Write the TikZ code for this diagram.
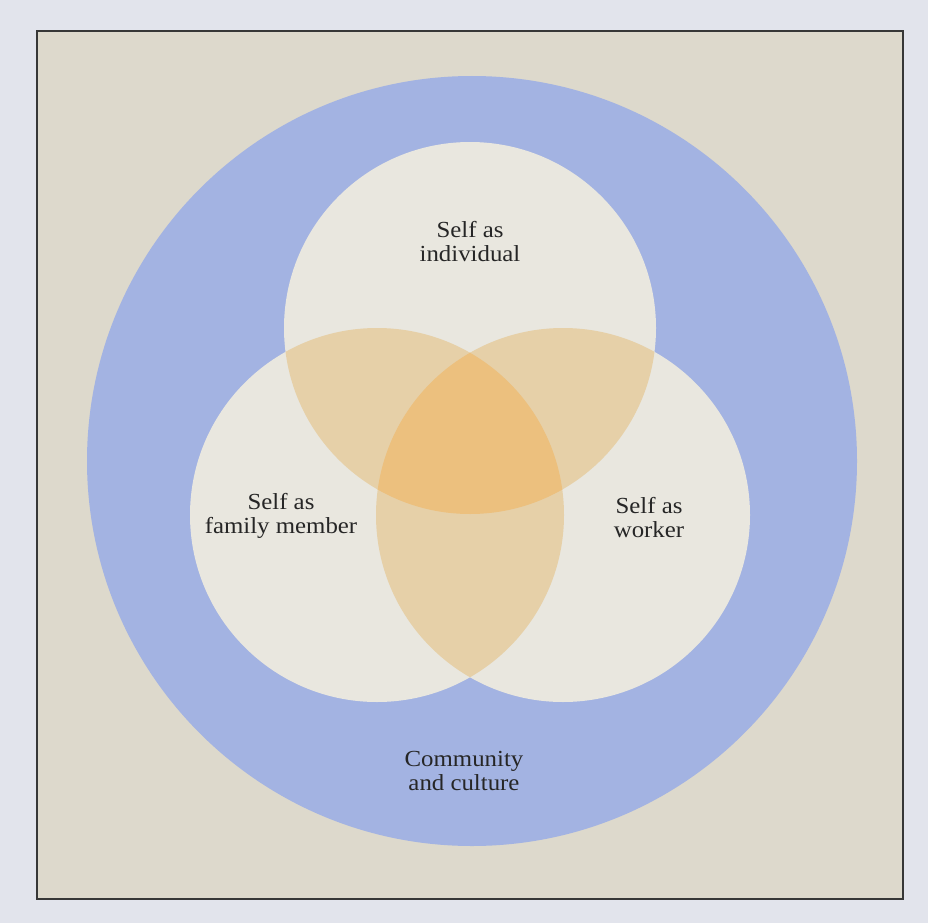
\documentclass[tikz,border=0pt]{standalone}
\usepackage{fontspec}
\setmainfont{Liberation Serif}[FakeStretch=1.08]
\definecolor{pagebg}{RGB}{226,228,236}
\definecolor{paper}{RGB}{221,217,204}
\definecolor{ringblue}{RGB}{163,179,226}
\definecolor{setwhite}{RGB}{233,231,223}
\definecolor{pairtan}{RGB}{230,208,168}
\definecolor{coreorange}{RGB}{236,192,126}
\definecolor{framegrey}{RGB}{55,55,55}
\begin{document}
\begin{tikzpicture}[x=1pt,y=-1pt,
  lbl/.style={align=center,font=\fontsize{23}{23.5}\selectfont,inner sep=0pt,text=black!85,anchor=base},
  framebox/.style={draw=framegrey,line width=1.5pt,fill=paper}]
\fill[pagebg] (0,0) rectangle (928,923);
\useasboundingbox (0,0) rectangle (928,923);
\draw[framebox] (37,31) rectangle (903,899);
% outer ring
\fill[ringblue] (472,461) circle[radius=385pt];
% three sets
\coordinate (ci) at (470,328);
\coordinate (cf) at (377,515);
\coordinate (cw) at (563,515);
\fill[setwhite] (ci) circle[radius=186pt];
\fill[setwhite] (cf) circle[radius=187pt];
\fill[setwhite] (cw) circle[radius=187pt];
% pairwise overlaps
\begin{scope}
  \clip (ci) circle[radius=186pt];
  \fill[pairtan] (cf) circle[radius=187pt];
  \fill[pairtan] (cw) circle[radius=187pt];
\end{scope}
\begin{scope}
  \clip (cf) circle[radius=187pt];
  \fill[pairtan] (cw) circle[radius=187pt];
\end{scope}
% triple overlap
\begin{scope}
  \clip (ci) circle[radius=186pt];
  \clip (cf) circle[radius=187pt];
  \fill[coreorange] (cw) circle[radius=187pt];
\end{scope}
% labels
\node[lbl] (indiv) at (470,261) {Self as\\individual};
\node[lbl] (family) at (281,533) {Self as\\family member};
\node[lbl] (worker) at (649,537) {Self as\\worker};
\node[lbl] (community) at (464,790) {Community\\and culture};
\end{tikzpicture}
\end{document}
